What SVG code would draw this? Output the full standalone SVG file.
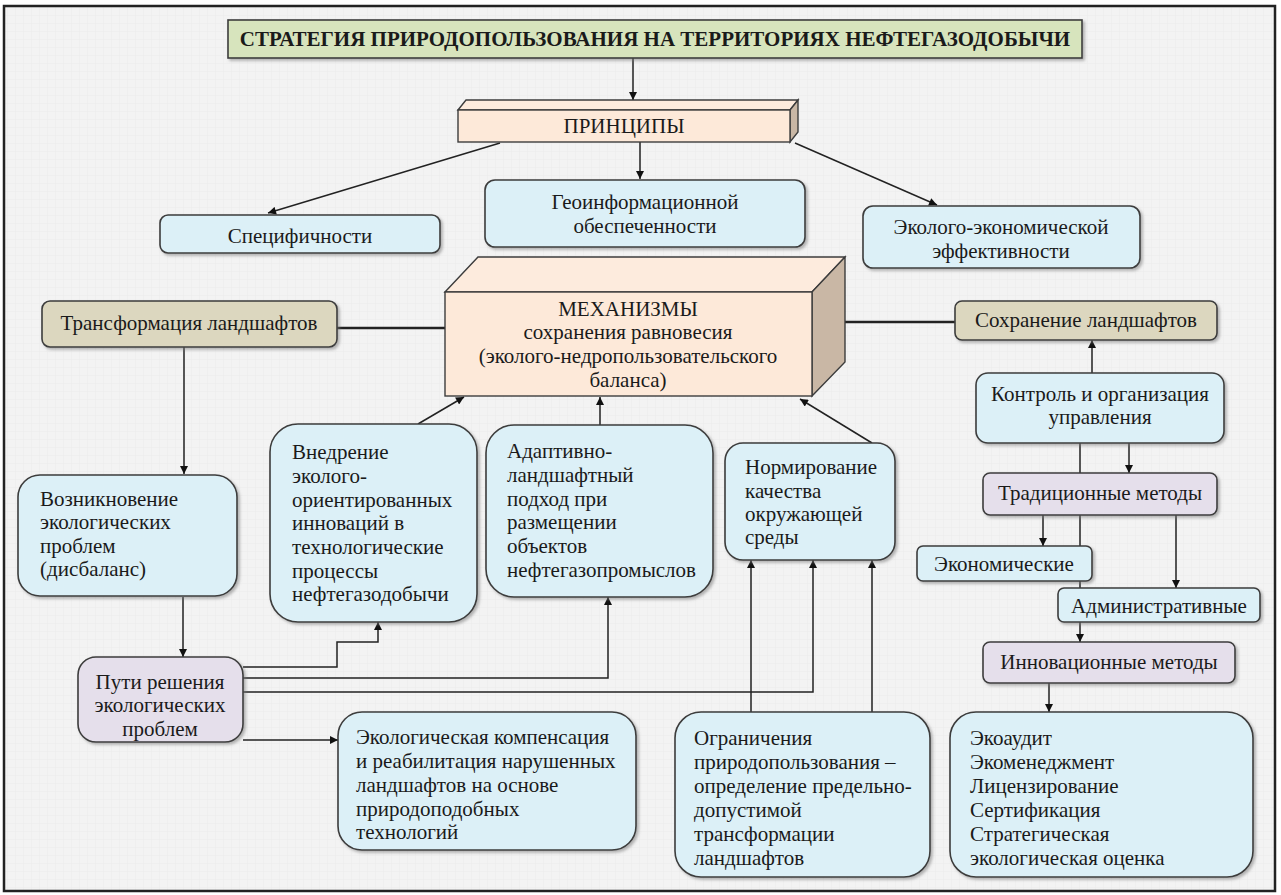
<svg xmlns="http://www.w3.org/2000/svg" width="1281" height="895" viewBox="0 0 1281 895">
<style>
.bx{stroke:#3c3c3c;stroke-width:1.6;filter:url(#sh)}
.cy{fill:#dcf0f7}
.tn{fill:#dcd7bf}
.lv{fill:#e5dfeb}
.gr{fill:#d7e4bd}
.pf{fill:#fde9d9;stroke:#3c3c3c;stroke-width:1.4}
.pt{fill:#fdebdd;stroke:#3c3c3c;stroke-width:1.4}
.pr{fill:#c9b7a5;stroke:#3c3c3c;stroke-width:1.4}
.c{text-anchor:middle}
.ln{stroke:#222;stroke-width:1.5;fill:none}
.th{stroke:#222;stroke-width:2.6;fill:none}
.ar{marker-end:url(#ah)}
</style>
<defs>
<marker id="ah" viewBox="0 0 10 10" refX="10" refY="5" markerWidth="9" markerHeight="8" markerUnits="userSpaceOnUse" orient="auto"><path d="M0,0 L10,5 L0,10 z" fill="#111"/></marker>
<filter id="sh" x="-10%" y="-10%" width="130%" height="130%"><feDropShadow dx="2" dy="2" stdDeviation="1.5" flood-color="#777" flood-opacity="0.55"/></filter>
<pattern id="grid" width="8" height="8" patternUnits="userSpaceOnUse"><rect width="8" height="8" fill="#f3f3f3"/><path d="M8,0 V8 M0,8 H8" stroke="#ebebeb" stroke-width="1"/></pattern>
</defs>
<rect x="0" y="0" width="1281" height="895" fill="#ffffff"/>
<rect x="4" y="6" width="1271" height="885" fill="url(#grid)" stroke="#222" stroke-width="2.5"/>

<g id="connectors">
<path class="ln ar" d="M633,58 V100"/>
<path class="ln ar" d="M500,143 L268,213"/>
<path class="ln ar" d="M640,142 V179"/>
<path class="ln ar" d="M795,143 L937,205"/>
<path class="th" d="M337,328 H445"/>
<path class="th" d="M845,322 H955"/>
<path class="ln ar" d="M184,347 V474"/>
<path class="ln ar" d="M183,597 V657"/>
<path class="ln ar" d="M418,424 L464,397"/>
<path class="ln ar" d="M600,425 V397"/>
<path class="ln ar" d="M872,443 L800,399"/>
<path class="ln ar" d="M243,667 H337 V642 H378 V622"/>
<path class="ln ar" d="M243,678 H608 V597"/>
<path class="ln ar" d="M243,692 H813 V560"/>
<path class="ln ar" d="M243,740 H338"/>
<path class="ln ar" d="M751,712 V560"/>
<path class="ln ar" d="M872,712 V560"/>
<path class="ln ar" d="M1092,373 V340"/>
<path class="ln ar" d="M1129,443 V473"/>
<path class="ln ar" d="M1080,443 V642"/>
<path class="ln ar" d="M1043,515 V546"/>
<path class="ln ar" d="M1176,515 V588"/>
<path class="ln ar" d="M1049,683 V712"/>
</g>

<g font-family="Liberation Serif, Times New Roman, DejaVu Serif, serif" font-size="21" fill="#1a1a1a">
<g id="title">
<rect class="bx gr" x="228" y="20" width="854" height="38"/>
<text class="c" x="655" y="46" font-weight="bold" font-size="21">СТРАТЕГИЯ ПРИРОДОПОЛЬЗОВАНИЯ НА ТЕРРИТОРИЯХ НЕФТЕГАЗОДОБЫЧИ</text>
</g>

<g id="principles">
<polygon class="pt" points="458,110 466,100 798,100 790,110"/>
<polygon class="pr" points="790,110 798,100 798,132 790,142"/>
<rect class="pf" x="458" y="110" width="332" height="32"/>
<text class="c" x="624" y="133">ПРИНЦИПЫ</text>
</g>

<g id="specificity">
<rect class="bx cy" x="160" y="215" width="280" height="38" rx="8"/>
<text class="c" x="300" y="243">Специфичности</text>
</g>

<g id="geoinfo">
<rect class="bx cy" x="485" y="180" width="320" height="67" rx="10"/>
<text class="c" x="645" y="209">Геоинформационной</text>
<text class="c" x="645" y="233">обеспеченности</text>
</g>

<g id="ecoecon">
<rect class="bx cy" x="863" y="206" width="277" height="62" rx="10"/>
<text class="c" x="1001" y="234">Эколого-экономической</text>
<text class="c" x="1001" y="258">эффективности</text>
</g>

<g id="mechanisms">
<polygon class="pt" points="445,292 478,257 845,257 812,292"/>
<polygon class="pr" points="812,292 845,257 845,362 812,396"/>
<rect class="pf" x="445" y="292" width="367" height="104"/>
<text class="c" x="628" y="316">МЕХАНИЗМЫ</text>
<text class="c" x="628" y="339">сохранения равновесия</text>
<text class="c" x="628" y="363">(эколого-недропользовательского</text>
<text class="c" x="628" y="387">баланса)</text>
</g>

<g id="transform">
<rect class="bx tn" x="42" y="301" width="295" height="46" rx="8"/>
<text class="c" x="189" y="330">Трансформация ландшафтов</text>
</g>

<g id="preserve">
<rect class="bx tn" x="955" y="301" width="262" height="39" rx="7"/>
<text class="c" x="1086" y="327">Сохранение ландшафтов</text>
</g>

<g id="control">
<rect class="bx cy" x="976" y="373" width="248" height="70" rx="12"/>
<text class="c" x="1100" y="401">Контроль и  организация</text>
<text class="c" x="1100" y="424">управления</text>
</g>

<g id="traditional">
<rect class="bx lv" x="983" y="473" width="234" height="42" rx="7"/>
<text class="c" x="1100" y="500">Традиционные методы</text>
</g>

<g id="economic">
<rect class="bx cy" x="917" y="546" width="175" height="35" rx="6"/>
<text class="c" x="1004" y="571">Экономические</text>
</g>

<g id="administrative">
<rect class="bx cy" x="1058" y="588" width="202" height="34" rx="6"/>
<text class="c" x="1159" y="613">Административные</text>
</g>

<g id="innovative">
<rect class="bx lv" x="983" y="642" width="252" height="41" rx="7"/>
<text class="c" x="1109" y="669">Инновационные методы</text>
</g>

<g id="emergence">
<rect class="bx cy" x="18" y="475" width="219" height="121" rx="22"/>
<text x="40" y="506">Возникновение</text>
<text x="40" y="529">экологических</text>
<text x="40" y="553">проблем</text>
<text x="40" y="576">(дисбаланс)</text>
</g>

<g id="introduction">
<rect class="bx cy" x="270" y="424" width="207" height="198" rx="28"/>
<text x="292" y="459">Внедрение</text>
<text x="292" y="483">эколого-</text>
<text x="292" y="507">ориентированных</text>
<text x="292" y="530">инноваций в</text>
<text x="292" y="554">технологические</text>
<text x="292" y="578">процессы</text>
<text x="292" y="601">нефтегазодобычи</text>
</g>

<g id="adaptive">
<rect class="bx cy" x="486" y="425" width="227" height="172" rx="28"/>
<text x="507" y="458">Адаптивно-</text>
<text x="507" y="482">ландшафтный</text>
<text x="507" y="506">подход при</text>
<text x="507" y="529">размещении</text>
<text x="507" y="553">объектов</text>
<text x="507" y="577">нефтегазопромыслов</text>
</g>

<g id="norming">
<rect class="bx cy" x="725" y="443" width="170" height="117" rx="18"/>
<text x="745" y="474">Нормирование</text>
<text x="745" y="498">качества</text>
<text x="745" y="521">окружающей</text>
<text x="745" y="544">среды</text>
</g>

<g id="solutions">
<rect class="bx lv" x="78" y="657" width="165" height="85" rx="18"/>
<text class="c" x="160" y="689">Пути решения</text>
<text class="c" x="160" y="712">экологических</text>
<text class="c" x="160" y="736">проблем</text>
</g>

<g id="compensation">
<rect class="bx cy" x="338" y="712" width="298" height="138" rx="24"/>
<text x="356" y="744">Экологическая компенсация</text>
<text x="356" y="768">и реабилитация нарушенных</text>
<text x="356" y="792">ландшафтов на основе</text>
<text x="356" y="816">природоподобных</text>
<text x="356" y="839">технологий</text>
</g>

<g id="limits">
<rect class="bx cy" x="675" y="712" width="255" height="165" rx="26"/>
<text x="694" y="745">Ограничения</text>
<text x="694" y="769">природопользования –</text>
<text x="694" y="793">определение предельно-</text>
<text x="694" y="817">допустимой</text>
<text x="694" y="841">трансформации</text>
<text x="694" y="865">ландшафтов</text>
</g>

<g id="audit">
<rect class="bx cy" x="950" y="712" width="303" height="165" rx="26"/>
<text x="970" y="745">Экоаудит</text>
<text x="970" y="769">Экоменеджмент</text>
<text x="970" y="793">Лицензирование</text>
<text x="970" y="817">Сертификация</text>
<text x="970" y="841">Стратегическая</text>
<text x="970" y="865">экологическая оценка</text>
</g>
</g>
</svg>
